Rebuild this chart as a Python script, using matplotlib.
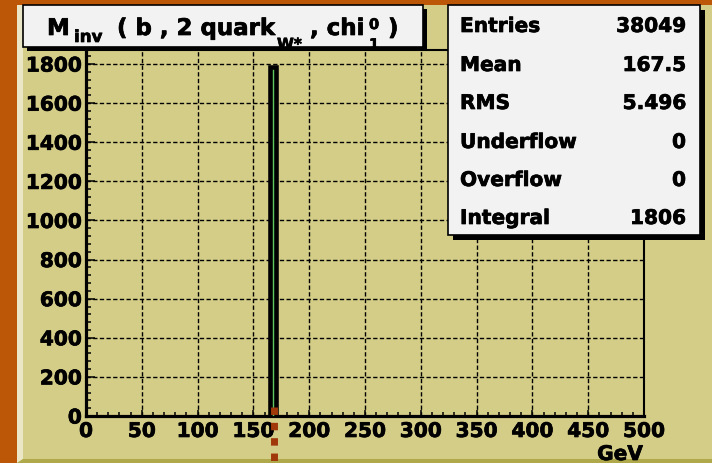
import numpy as np
import matplotlib
matplotlib.use("Agg")
import matplotlib.pyplot as plt
import matplotlib.patheffects as pe
from matplotlib.patches import Rectangle, Polygon
from matplotlib.ticker import MultipleLocator

# ---------------- data ----------------
bin_edges = [165, 170]
bin_counts = [1783]
x_major_ticks = [0, 50, 100, 150, 200, 250, 300, 350, 400, 450, 500]
y_major_ticks = [0, 200, 400, 600, 800, 1000, 1200, 1400, 1600, 1800]
marker_x = 168.7
stat_labels = ["Entries", "Mean", "RMS", "Underflow", "Overflow", "Integral"]
stat_values = ["38049", "167.5", "5.496", "0", "0", "1806"]
# title pieces: (text, left x px, baseline y px, font size)
title_pieces = [("M", 47, 36, 16.5), ("inv", 74, 43, 12), ("( b , 2 quark", 117, 36, 16.5),
                ("W*", 277, 50, 11), (", chi", 310, 36, 16.5), ("0", 369, 30, 10.5),
                ("1", 369, 50, 10.5), (")", 388, 36, 16.5)]
x_unit = "GeV"

# ---------------- style ----------------
plt.rcParams['font.family'] = ['DejaVu Sans']
plt.rcParams['font.weight'] = 'bold'

W, H = 712, 464
ORANGE = '#bd5708'
KHAKI = '#d4cd88'
FS = 14.5
THICK = [pe.withStroke(linewidth=0.5, foreground='black')]

fig = plt.figure(figsize=(W / 100, H / 100), dpi=100)
fig.patch.set_facecolor(ORANGE)

# background canvas (pixel coordinates)
bg = fig.add_axes([0, 0, 1, 1], zorder=0)
bg.set_xlim(0, W); bg.set_ylim(H, 0); bg.axis('off')
bg.add_patch(Rectangle((17, 6), W - 17, H - 6, facecolor=KHAKI, edgecolor='none'))
bg.add_patch(Polygon([(17, 6), (23, 6), (23, 460), (17, 464)], closed=True,
                     facecolor='#ebe7c6', edgecolor='none'))
bg.add_patch(Polygon([(17, 464), (23, 460), (W, 460), (W, 464)], closed=True,
                     facecolor='#b0a94c', edgecolor='none'))

# main axes
L, R, B, T = 86, 644, 417, 51
ax = fig.add_axes([L / W, 1 - B / H, (R - L) / W, (B - T) / H], zorder=1)
ax.set_facecolor(KHAKI)
ax.set_xlim(0, 500)
ax.set_ylim(0, 1872)
ax.set_xticks(x_major_ticks)
ax.set_yticks(y_major_ticks)
ax.xaxis.set_minor_locator(MultipleLocator(10))
ax.yaxis.set_minor_locator(MultipleLocator(40))
ax.tick_params(axis='x', which='major', direction='in', length=4.5, width=1.1,
               pad=4.3, labelsize=FS, top=False)
ax.tick_params(axis='x', which='minor', direction='in', length=3.0, width=1.1, top=False)
ax.tick_params(axis='y', which='major', direction='in', length=6.5, width=1.1,
               pad=3.0, labelsize=FS, right=False)
ax.tick_params(axis='y', which='minor', direction='in', length=3.6, width=1.1, right=False)
for lab in ax.get_xticklabels() + ax.get_yticklabels():
    lab.set_fontweight('bold')
    lab.set_path_effects(THICK)
ax.grid(True, which='major', color='black', linestyle=(0, (3.1, 1.7)), linewidth=1.0, zorder=0)
ax.set_axisbelow(True)
for s in ['left', 'bottom']:
    ax.spines[s].set_linewidth(2.3)
for s in ['right', 'top']:
    ax.spines[s].set_linewidth(1.5)

ax.stairs(bin_counts, bin_edges, fill=True, color='#5ec85e', zorder=3)
ax.stairs(bin_counts, bin_edges, color='black', linewidth=3.3, zorder=4)

ax.plot([marker_x, marker_x], [46, -400], color='#a0380a', linewidth=5,
        dashes=(1.07, 1.14), dash_capstyle='butt', clip_on=False, zorder=10)

# overlay (pixel coordinates) for boxes and text
ov = fig.add_axes([0, 0, 1, 1], zorder=2)
ov.set_xlim(0, W); ov.set_ylim(H, 0); ov.axis('off')
ov.patch.set_alpha(0)

# title box
ov.add_patch(Rectangle((27, 10), 400, 42, facecolor='black', edgecolor='none'))
ov.add_patch(Rectangle((23, 6), 400, 42, facecolor='#f2f2f2', edgecolor='black', linewidth=1.2))
for txt, xx, yy, fs in title_pieces:
    ov.text(xx, yy, txt, fontsize=fs, fontweight='bold', ha='left', va='baseline',
            path_effects=THICK)

# stats box
ov.add_patch(Rectangle((453, 11), 252, 230, facecolor='black', edgecolor='none'))
ov.add_patch(Rectangle((448, 6), 252, 230, facecolor='#f2f2f2', edgecolor='black', linewidth=1.2))
base_y = [33, 72, 110, 149, 187, 225]
for lab, val, yb in zip(stat_labels, stat_values, base_y):
    ov.text(460, yb, lab, fontsize=FS, fontweight='bold', ha='left', va='baseline',
            path_effects=THICK)
    ov.text(686, yb, val, fontsize=FS, fontweight='bold', ha='right', va='baseline',
            path_effects=THICK)

ov.text(643, 461, x_unit, fontsize=FS, fontweight='bold', ha='right', va='baseline',
        path_effects=THICK)

fig.savefig('out.png', dpi=100, facecolor=fig.get_facecolor())
